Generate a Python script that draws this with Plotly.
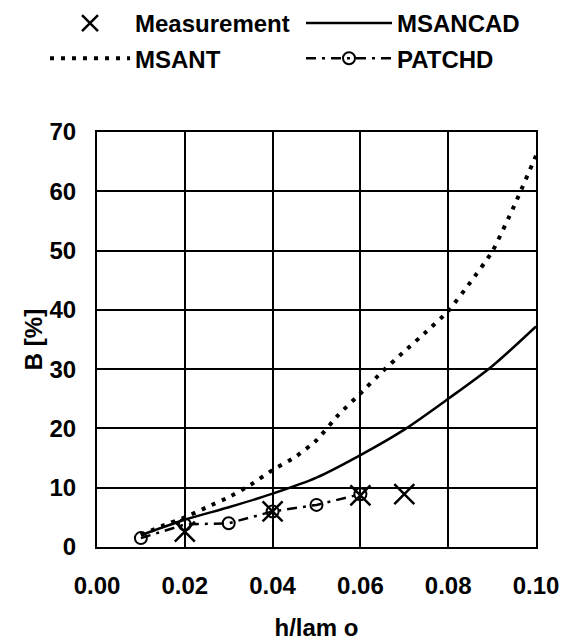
import plotly.graph_objects as go

# ---- data ----
meas_x = [0.02, 0.04, 0.06, 0.07]
meas_y = [2.6, 6.0, 8.7, 8.9]

msancad_x = [0.01, 0.02, 0.03, 0.04, 0.05, 0.06, 0.07, 0.08, 0.09, 0.10]
msancad_y = [2.0, 4.6, 6.7, 9.0, 11.7, 15.5, 19.8, 25.0, 30.5, 37.2]

msant_x = [0.010, 0.015, 0.020, 0.025, 0.030, 0.035, 0.040, 0.045, 0.050, 0.055,
           0.060, 0.065, 0.070, 0.075, 0.080, 0.085, 0.090, 0.095, 0.100]
msant_y = [2.0, 3.6, 5.0, 6.7, 8.4, 10.5, 13.0, 15.1, 18.0, 22.3,
           25.9, 29.6, 33.0, 36.3, 39.8, 44.6, 49.8, 57.5, 66.0]

patchd_x = [0.01, 0.02, 0.03, 0.04, 0.05, 0.06]
patchd_y = [1.5, 3.8, 4.0, 6.0, 7.1, 8.9]

x_ticks = [0.00, 0.02, 0.04, 0.06, 0.08, 0.10]
x_tick_labels = ["0.00", "0.02", "0.04", "0.06", "0.08", "0.10"]
y_ticks = [0, 10, 20, 30, 40, 50, 60, 70]

FONT = "Liberation Sans, Arial, sans-serif"
W, H = 562, 641
ML, MR, MT, MB = 97, 26, 132, 94
PW = W - ML - MR

fig = go.Figure()

fig.add_trace(go.Scatter(
    x=meas_x, y=meas_y, mode="markers", name="Measurement",
    legend="legend", legendgroup="a",
    marker=dict(symbol="x-thin", size=20, line=dict(width=2.5, color="black"), color="black"),
))
fig.add_trace(go.Scatter(
    x=msant_x, y=msant_y, mode="lines", name="MSANT",
    legend="legend", legendgroup="b",
    line=dict(color="black", width=4, dash="4px,7px", shape="spline", smoothing=0.5),
))
fig.add_trace(go.Scatter(
    x=msancad_x, y=msancad_y, mode="lines", name="MSANCAD",
    legend="legend2", legendgroup="c",
    line=dict(color="black", width=2.5, shape="spline", smoothing=0.8),
))
fig.add_trace(go.Scatter(
    x=patchd_x, y=patchd_y, mode="lines+markers", name="PATCHD",
    legend="legend2", legendgroup="d",
    line=dict(color="black", width=2.5, dash="10px,6px,3px,6px"),
    marker=dict(symbol="circle-open", size=12, line=dict(width=2, color="black"), color="black"),
))

legend_common = dict(
    orientation="v", xref="paper", yref="container",
    y=1 - 1 / H, xanchor="left", yanchor="top",
    font=dict(family=FONT, size=24, color="black", weight="bold"),
    bgcolor="rgba(0,0,0,0)", traceorder="grouped", tracegroupgap=1,
)

fig.update_layout(
    width=W, height=H,
    margin=dict(l=ML, r=MR, t=MT, b=MB, autoexpand=False),
    paper_bgcolor="white", plot_bgcolor="white",
    font=dict(family=FONT, size=24, color="black", weight="bold"),
    showlegend=True,
    legend=dict(legend_common, x=(45 - ML) / PW, itemwidth=80),
    legend2=dict(legend_common, x=(301 - ML) / PW, itemwidth=86),
    xaxis=dict(
        range=[0, 0.10], tickvals=x_ticks, ticktext=x_tick_labels,
        showgrid=True, gridcolor="black", gridwidth=2,
        showline=True, linecolor="black", linewidth=2, mirror=True,
        zeroline=False, ticks="", ticklabelstandoff=16, automargin=False,
        title=dict(text="h/lam o", standoff=35, font=dict(size=24, weight="bold")),
        tickfont=dict(size=24, weight="bold"),
    ),
    yaxis=dict(
        range=[0, 70], tickvals=y_ticks,
        showgrid=True, gridcolor="black", gridwidth=2,
        showline=True, linecolor="black", linewidth=2, mirror=True,
        zeroline=False, ticks="", ticklabelstandoff=14, automargin=False,
        title=dict(text="B [%]", standoff=0, font=dict(size=24, weight="bold")),
        tickfont=dict(size=24, weight="bold"),
    ),
)

fig.write_html("out.html")
